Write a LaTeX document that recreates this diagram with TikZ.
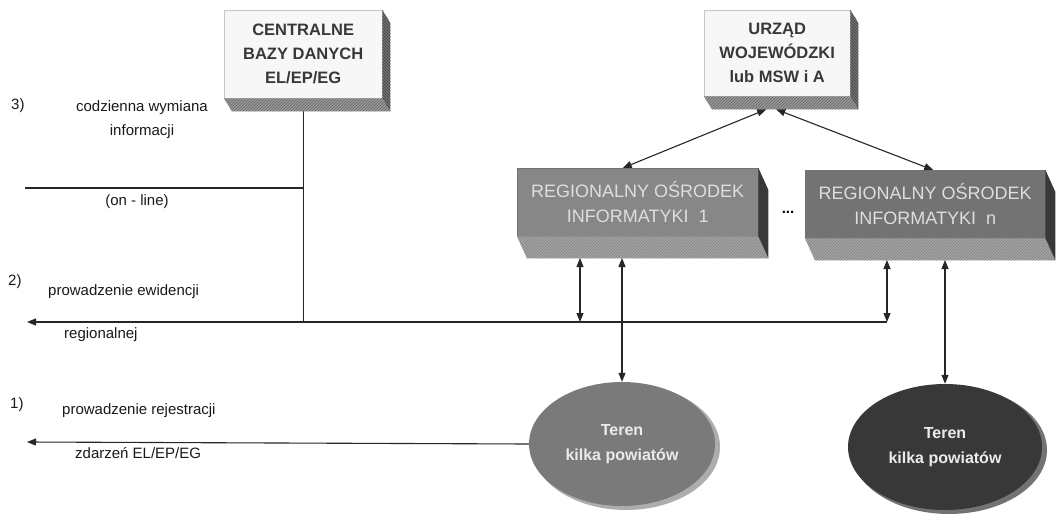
\documentclass[tikz,border=0pt]{standalone}
\usepackage{fontspec}
\setmainfont{Liberation Sans}
\usetikzlibrary{arrows.meta,shapes.geometric,patterns,backgrounds}
\newcommand{\myextrude}[5]{%
  \path[#4] (#1.south west) -- (#1.south east) -- ([shift={(#2,#3)}]#1.south east) -- ([shift={(#2,#3)}]#1.south west) -- cycle;
  \path[#5] (#1.north east) -- ([shift={(#2,#3)}]#1.north east) -- ([shift={(#2,#3)}]#1.south east) -- (#1.south east) -- cycle;
}
\begin{document}
\begin{tikzpicture}[x=1pt,y=-1pt,
  ln/.style={draw=black!85, line width=1.1pt},
  arr/.style={ln, -{Triangle[length=9pt,width=7pt]}},
  dbl/.style={ln, {Triangle[length=9pt,width=7pt]}-{Triangle[length=9pt,width=7pt]}},
  lbl/.style={font=\fontsize{15}{24}\selectfont, text=black!90, inner sep=0pt},
  topbox/.style={draw=black!22, fill=black!3, font=\bfseries\fontsize{16.5}{24}\selectfont, text=black!78, align=center, inner sep=0pt, anchor=north west},
  regbox/.style={draw=black!55, font=\fontsize{18}{25}\selectfont, text=black!13, align=center, inner sep=0pt, anchor=north west},
  topbot/.style={fill=black!40, postaction={pattern=north east lines, pattern color=black!60}},
  topside/.style={fill=black!55, postaction={pattern=north west lines, pattern color=black!75}},
  regbot/.style={fill=black!35, postaction={pattern=north east lines, pattern color=black!50}},
  regside/.style={fill=black!78},
  oval/.style={ellipse, inner sep=0pt, align=center, font=\bfseries\fontsize{16}{25}\selectfont, text=black!8},
]
\useasboundingbox (0,0) rectangle (1059,516);

% top boxes
\node[topbox, minimum width=158, minimum height=88] (cbd) at (224,10) {CENTRALNE\\BAZY DANYCH\\EL/EP/EG};
\myextrude{cbd}{8}{13}{topbot}{topside}
\node[topbox, minimum width=146, minimum height=86] (uw) at (704,10) {URZĄD\\WOJEWÓDZKI\\lub MSW i A};
\myextrude{uw}{8}{13}{topbot}{topside}

% regional boxes
\node[regbox, fill=black!47, minimum width=241, minimum height=68] (r1) at (517,168) {REGIONALNY OŚRODEK\\INFORMATYKI\ \ 1};
\myextrude{r1}{10}{22}{regbot}{regside}
\node[regbox, fill=black!55, minimum width=240, minimum height=68] (rn) at (805,170) {REGIONALNY OŚRODEK\\INFORMATYKI\ \ n};
\myextrude{rn}{10}{22}{regbot}{regside}
\node[font=\bfseries\fontsize{15}{18}\selectfont, inner sep=0pt] (dots) at (788,212) {...};

% ellipses
\node[ellipse, fill=black!32, minimum width=188, minimum height=126] (t1rim) at (626,447) {};
\node[oval, fill=black!52, minimum width=186, minimum height=124] (t1) at (622,444) {Teren\\kilka powiatów};
\node[ellipse, fill=black!55, minimum width=196, minimum height=128] (t2rim) at (949,450) {};
\node[oval, fill=black!78, minimum width=194, minimum height=126] (t2) at (945,447) {Teren\\kilka powiatów};

% coordinates
\coordinate (l3end) at (25,188);
\coordinate (l2end) at (27,322);
\coordinate (l1end) at (27,442);
\coordinate (r1p) at (580,258);
\coordinate (r1q) at (622,258);
\coordinate (rnp) at (887,260);
\coordinate (rnq) at (945,260);

% labels
\node[lbl, anchor=west] (n3) at (11,106) {3)};
\node[lbl, align=center] (t3) at (142,120) {codzienna wymiana\\informacji};
\node[lbl] (t3b) at (137,202) {(on - line)};
\node[lbl, anchor=west] (n2) at (8,282) {2)};
\node[lbl, anchor=west] (t2a) at (48,292) {prowadzenie ewidencji};
\node[lbl, anchor=west] (t2b) at (64,335) {regionalnej};
\node[lbl, anchor=west] (n1) at (10,405) {1)};
\node[lbl, anchor=west] (t1a) at (62,411) {prowadzenie rejestracji};
\node[lbl, anchor=west] (t1b) at (75,453) {zdarzeń EL/EP/EG};

% connectors
\begin{pgfonlayer}{background}
\draw[ln] (cbd.south) -- (cbd.south |- l2end);
\draw[ln] (cbd.south |- l3end) -- (l3end);
\draw[arr] (rnp |- l2end) -- (l2end);
\draw[arr] (t1.west) -- (l1end);
\end{pgfonlayer}
\draw[dbl] (r1p) -- (r1p |- l2end);
\draw[dbl] (r1q) -- (t1.north);
\draw[dbl] (rnp) -- (rnp |- l2end);
\draw[dbl] (rnq) -- (t2.north);
\draw[dbl] ([shift={(-11,13)}]uw.south) -- ([xshift=-15pt]r1.north);
\draw[dbl] ([shift={(-1,13)}]uw.south) -- ([xshift=8pt]rn.north);
\end{tikzpicture}
\end{document}
